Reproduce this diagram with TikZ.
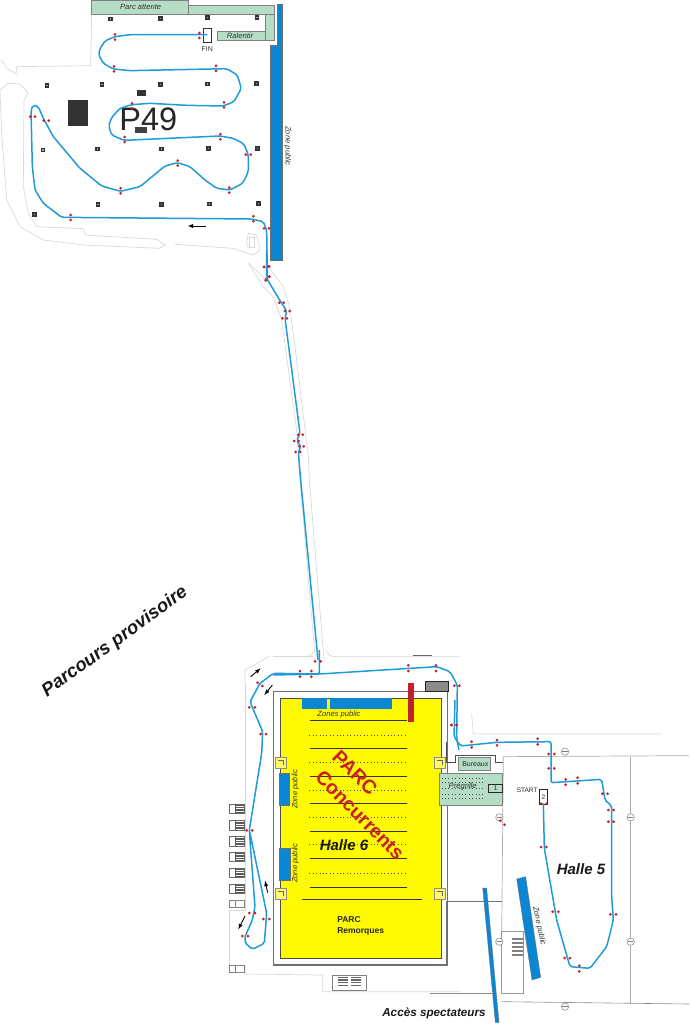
\documentclass[tikz,border=0pt]{standalone}
\usepackage{fontspec}
\setmainfont{Liberation Sans}
\definecolor{routeblue}{HTML}{1F9BD7}
\definecolor{zoneblue}{HTML}{0A86D2}
\definecolor{parcgreen}{HTML}{B5DDC6}
\definecolor{hallyellow}{HTML}{FFFA00}
\definecolor{conered}{HTML}{C8202A}
\definecolor{planline}{HTML}{D8D8D8}
\definecolor{wallgray}{HTML}{6E6E6E}
\tikzset{
  route/.style={routeblue,line width=1.5pt,rounded corners=2pt},
  planwall/.style={planline,line width=0.7pt},
  hallwall/.style={wallgray,line width=1.2pt},
  zonebox/.style={fill=zoneblue,draw=wallgray,line width=0.3pt},
  greenbox/.style={fill=parcgreen,draw=gray,line width=0.6pt},
  blackbox/.style={fill=black!80,draw=none},
  flow/.style={-latex,line width=0.9pt},
  rowline/.style={black!80,line width=1pt},
  rowdots/.style={black!70,line width=0.6pt,dash pattern=on 0.8pt off 2.6pt},
  smalltxt/.style={font=\fontsize{7.6}{8}\selectfont\itshape,text=black!80,inner sep=0pt},
  conedot/.style={fill=conered,draw=none},
}
\begin{document}
\begin{tikzpicture}[x=1pt,y=-1pt]
    \useasboundingbox (0,0) rectangle (689,1024);

    % P49 car park, coordinates read from the upper left part
    \begin{scope}[scale=1/3]
        % Outline of the ground
        \draw[planwall] (275,43) -- (272,197) -- (50,200) -- (48,222) -- (20,205) -- (5,180);
        \draw[planwall] (0,270) -- (25,250) -- (60,252) -- (85,280) -- (72,300) -- (70,560) -- (85,640) -- (110,680) -- (250,686) -- (255,705) -- (470,718) -- (495,735) -- (480,745) -- (250,735) -- (130,720) -- (60,680) -- (20,600) -- (5,400) -- (0,270);
        \draw[planwall] (525,733) -- (700,745) -- (760,765) -- (780,750) -- (770,705) -- (745,700) -- (740,725) -- (745,745);
        \draw[planwall] (747,712) rectangle (762,742);
        \draw[planwall] (745,790) -- (800,840);

        % Green areas
        \draw[greenbox] (565,17) rectangle (822,43);
        \draw[greenbox] (795,43) rectangle (822,120);
        \draw[greenbox] (652,94) rectangle (795,120);
        \draw[greenbox] (274,0) rectangle (565,43);
        \node[smalltxt] (attente) at (422,20) {Parc attente};
        \node[smalltxt] (ralentir) at (720,107) {Ralentir};

        % Public zone
        \draw[zonebox] (810,135) rectangle (845,780);
        \draw[zonebox] (832,12) rectangle (845,135);
        \node[smalltxt,rotate=-90] (zonetop) at (863,438) {Zone public};

        % Lamp posts and blocks
        \foreach \x/\y in {332/57,481/55,623/53,771/52,141/256,306/253,481/253,622/252,770/251,129/450,292/447,484/447,625/446,773/446,294/613,485/613,628/612,776/611,104/644} {
            \fill[blackbox] (\x-7,\y-7) rectangle (\x+7,\y+7);
            \fill[black!35] (\x-2,\y-2) rectangle (\x+2,\y+2);
        }
        \fill[blackbox] (205,300) rectangle (263,378);
        \fill[blackbox] (411,271) rectangle (438,287);
        \node[font=\fontsize{32.5}{34}\selectfont,text=black!85,inner sep=0pt] (pname) at (445,359) {P49};
        \fill[black!75] (405,380) rectangle (442,400);

        % Finish
        \draw[black!80,fill=white,line width=0.6pt] (610,84) rectangle (634,128);
        \node[font=\fontsize{7}{8}\selectfont,text=black!80,inner sep=0pt] (fin) at (622,146) {FIN};

        % Route
        \draw[route] (622,104) -- (390,104) -- (345,110) -- (316,122) -- (300,145) -- (296,165) -- (310,190) -- (340,207) -- (390,212) -- (680,206) -- (712,225) -- (724,265) -- (702,305) -- (670,318) -- (560,316) -- (450,310) -- (395,314) -- (360,325) -- (335,352) -- (326,378) -- (335,405) -- (372,421) -- (660,408) -- (700,415) -- (732,432) -- (745,465) -- (745,515) -- (728,550) -- (690,570) -- (650,565) -- (615,540) -- (570,500) -- (533,488) -- (495,498) -- (420,560) -- (362,574) -- (305,558) -- (240,505) -- (160,410) -- (130,355) -- (115,320) -- (100,315) -- (93,330) -- (97,500) -- (105,570) -- (130,610) -- (185,652) -- (755,657) -- (790,665) -- (800,690) -- (802,840);
        \coordinate (arrowA) at (617,678);
        \coordinate (arrowB) at (563,678);
        \draw[flow] (arrowA) -- (arrowB);

        % Gates
        \foreach \x/\y in {345/103,345/119,598/99,598/114,342/199,342/214,648/198,648/213,396/310,396/325,672/307,672/322,374/411,374/426,661/403,661/418,737/464,752/464,533/482,533/497,362/565,362/580,688/563,688/578,91/350,105/350,131/362,146/362,212/645,212/660,760/649,760/664,792/685,807/685,792/801,807/799,808/830,798/838}
            \fill[conedot] (\x,\y) circle (4.5);
    \end{scope}

    % Road between the car park and the halls
    \begin{scope}[shift={(240,250)},scale=1/3]
        \draw[planwall] (25,40) -- (70,110) -- (100,140) -- (125,210) -- (170,540) -- (180,690) -- (226,1230);
        \draw[planwall] (85,50) -- (130,110) -- (150,175) -- (165,290) -- (205,620) -- (208,690) -- (252,1230);
        \draw[route] (80,0) -- (80,85) -- (125,160) -- (140,183) -- (135,205) -- (180,550) -- (170,572) -- (183,590) -- (175,605) -- (182,690) -- (234,1230);
        \foreach \x/\y in {72/51,87/50,88/80,77/91,118/158,131/158,135/183,149/183,127/205,141/205,175/554,188/554,162/573,176/573,178/589,191/589,167/606,180/606}
            \fill[conedot] (\x,\y) circle (4.5);
    \end{scope}

    % Hall 6, coordinates read from the lower left part
    \begin{scope}[shift={(220,650)},scale=1/3]
        \draw[planwall] (160,18) -- (280,18);
        \draw[planwall] (280,0) to[out=-90,in=0] (265,18);
        \draw[planwall] (320,0) to[out=-90,in=180] (345,20) -- (720,20);
        \draw[black!60,line width=1pt] (580,15) -- (635,15);
        \draw[planwall] (75,105) -- (75,780) -- (27,780) -- (27,945);
        \draw[planwall] (75,105) -- (75,60) -- (150,18);
        \draw[planwall] (75,945) -- (75,972) -- (308,975) -- (308,1025) -- (720,1025);
        \foreach \y in {463,512,560,606,655,703} {
            \draw[black!60,fill=white,line width=0.6pt] (27,\y) rectangle (73,\y+28);
            \foreach \s in {3,8,13,18,23}
                \fill[black!65] (45,\y+\s) rectangle (73,\y+\s+2.5);
            \draw[black!65,line width=0.6pt] (45,\y) -- (45,\y+28);
        }
        \draw[planline!60!black,line width=0.5pt] (27,752) rectangle (73,772);
        \draw[planline!60!black,line width=0.5pt] (27,946) rectangle (73,968);
        \draw[planline!60!black,line width=0.5pt] (45,752) -- (45,772);
        \draw[planline!60!black,line width=0.5pt] (45,946) -- (45,968);
        \draw[black!50,line width=0.5pt] (338,975) rectangle (440,1020);
        \foreach \y in {980,988,996,1004} {
            \fill[black!60] (355,\y) rectangle (385,\y+4);
            \fill[black!60] (393,\y) rectangle (423,\y+4);
        }

        % Hall walls and floor
        \draw[hallwall] (160,125) rectangle (682,945);
        \fill[hallyellow] (180,145) rectangle (665,925);
        \draw[black!70,line width=0.8pt] (180,145) rectangle (665,925);
        \fill[zoneblue] (246,145) rectangle (320,176);
        \fill[zoneblue] (330,145) rectangle (515,176);
        \draw[zonebox] (176,368) rectangle (207,465);
        \draw[zonebox] (178,595) rectangle (210,690);
        \fill[conered] (563,100) rectangle (582,215);
        \node[rotate=90,font=\fontsize{3.5}{4}\selectfont,text=black!70,inner sep=0pt] (retour) at (572,158) {Retour Halle};
        \draw[black!85,fill=black!45,line width=0.8pt] (617,95) rectangle (685,123);

        % Rows of the park
        \foreach \y in {212,296,378,461,543,625,711}
            \draw[rowline] (270,\y) -- (562,\y);
        \foreach \y in {255,338,420,502,584,670}
            \draw[rowdots] (268,\y) -- (562,\y);
        \draw[rowline] (247,747) -- (606,747);

        % Stair blocks at the corners
        \foreach \x/\y in {183/338,660/338,183/731,660/731} {
            \draw[black!45,fill=hallyellow!60!white,line width=0.4pt] (\x-17,\y-17) rectangle (\x+17,\y+17);
            \draw[black!60,line width=0.5pt] (\x-8,\y-8) -- (\x+8,\y-8) -- (\x+8,\y+8);
        }

        % Texts of the hall
        \node[smalltxt] (zones) at (357,193) {Zones public};
        \node[smalltxt,rotate=90] (zonea) at (226,418) {Zone public};
        \node[smalltxt,rotate=90] (zoneb) at (226,640) {Zone public};
        \node[font=\fontsize{15}{16}\selectfont\bfseries\itshape,text=black!90,inner sep=0pt] (halle) at (372,585) {Halle 6};
        \node[font=\fontsize{19.5}{20}\selectfont\bfseries,text=conered,inner sep=0pt,rotate=-45] (parc) at (405,368) {PARC};
        \node[font=\fontsize{19.5}{20}\selectfont\bfseries,text=conered,inner sep=0pt,rotate=-45] (concurrents) at (420,495) {Concurrents};
        \node[font=\fontsize{8.5}{10.5}\selectfont\bfseries,text=black!85,inner sep=0pt,align=left] (remorques) at (422,827) {PARC\\Remorques};

        % Route
        \draw[route] (298,0) -- (298,72) -- (160,70) -- (120,100) -- (90,155) -- (128,245) -- (125,310) -- (88,540) -- (140,790) -- (133,880) -- (97,898) -- (75,878) -- (75,860) -- (97,810) -- (105,770) -- (92,600) -- (88,540);
        \draw[route] (160,75) -- (298,72) -- (650,50) -- (690,65) -- (712,105) -- (710,265) -- (717,300);
        \coordinate (arrowC) at (92,80);
        \coordinate (arrowD) at (122,55);
        \coordinate (arrowE) at (157,105);
        \coordinate (arrowF) at (133,135);
        \coordinate (arrowG) at (143,728);
        \coordinate (arrowH) at (135,692);
        \coordinate (arrowI) at (75,798);
        \coordinate (arrowJ) at (55,838);
        \draw[flow] (arrowC) -- (arrowD);
        \draw[flow] (arrowE) -- (arrowF);
        \draw[flow] (arrowG) -- (arrowH);
        \draw[flow] (arrowI) -- (arrowJ);
        \foreach \x/\y in {285/34,302/34,240/63,240/80,274/63,274/80,113/98,127/108,88/172,105/172,122/252,138/252,80/541,97/541,88/789,105/789,130/807,148/807,67/858,84/858,565/46,565/63,648/46,648/63,703/107,718/107,694/225,710/225}
            \fill[conedot] (\x,\y) circle (4.5);
    \end{scope}

    % Hall 5, coordinates read from the lower right part
    \begin{scope}[shift={(430,700)},scale=1/3]
        \draw[planwall] (125,40) -- (130,102) -- (695,102);
        \draw[planline!80!black,line width=0.7pt] (220,170) -- (777,167);
        \draw[planline!80!black,line width=0.9pt] (602,170) -- (602,912);
        \draw[black!45,line width=0.6pt] (215,905) -- (777,912);
        \draw[planline!80!black,line width=0.7pt] (220,170) -- (215,700);
        \draw[black!55,line width=0.6pt] (50,603) -- (215,603);
        \draw[black!55,line width=0.9pt] (50,603) -- (50,795) -- (0,795);
        \draw[black!45,line width=0.5pt] (0,880) -- (185,880);
        \draw[planline!70!black,line width=0.5pt] (215,695) rectangle (280,880);
        \foreach \y in {715,727,739,751,763}
            \fill[black!50] (245,\y) rectangle (280,\y+5);
        \draw[black!70,line width=0.6pt] (50,125) -- (50,187) -- (75,187) -- (75,165) -- (195,165) -- (195,187) -- (220,187);
        \foreach \x/\y in {602/352,602/725,208/352,208/725,405/155,405/920} {
            \draw[black!50,fill=white,line width=0.5pt] (\x,\y) circle (11);
            \draw[black!50,line width=0.8pt] (\x-8,\y) -- (\x+8,\y);
        }

        % Pre-grid and offices
        \draw[greenbox] (28,220) rectangle (218,317);
        \foreach \y in {234,248,265,282,296}
            \draw[black!70,line width=0.6pt,dash pattern=on 0.8pt off 2.6pt] (35,\y) -- (165,\y);
        \node[smalltxt] (pregrille) at (98,260) {Prégrille};
        \draw[black!85,fill=parcgreen,line width=0.7pt] (175,253) rectangle (218,278);
        \node[font=\fontsize{6.5}{7}\selectfont,text=black!85,inner sep=0pt] (boxone) at (197,266) {1};
        \draw[greenbox] (85,172) rectangle (180,210);
        \node[font=\fontsize{7}{8}\selectfont,text=black!85,inner sep=0pt] (bureaux) at (136,191) {Bureaux};

        % Start
        \draw[black!85,fill=white,line width=0.7pt] (327,268) rectangle (352,312);
        \node[font=\fontsize{6.5}{7}\selectfont,text=black!85,inner sep=0pt] (boxtwo) at (340,291) {2};
        \node[font=\fontsize{6.5}{7}\selectfont,text=black!85,inner sep=0pt,anchor=east] (start) at (323,272) {START};
        \node[font=\fontsize{15}{16}\selectfont\bfseries\itshape,text=black!90,inner sep=0pt] (hallefive) at (453,507) {Halle 5};

        % Public zones
        \draw[zonebox] (260,537) -- (287,530) -- (332,832) -- (306,840) -- cycle;
        \draw[zonebox] (158,564) -- (170,564) -- (207,968) -- (196,968) -- cycle;
        \node[smalltxt,rotate=-78] (zonehalle) at (327,678) {Zone public};

        % Route
        \draw[route] (75,0) -- (72,110) -- (92,138) -- (200,127) -- (363,125) -- (363,248) -- (515,238) -- (525,300) -- (545,318) -- (545,590) -- (550,660) -- (530,740) -- (480,805) -- (420,800) -- (380,660) -- (343,445) -- (340,310);
        \foreach \x/\y in {64/75,80/75,125/125,125/142,201/120,201/136,323/116,323/133,356/162,373/162,356/205,373/205,407/238,407/254,443/233,443/250,517/281,533/281,535/330,551/330,535/365,551/365,333/311,350/311,333/441,349/441,368/635,385/635,541/643,558/643,404/774,420/774,448/797,448/814,211/362,224/374}
            \fill[conedot] (\x,\y) circle (4.5);
    \end{scope}

    % Big titles
    \node[font=\fontsize{18.5}{19}\selectfont\bfseries\itshape,text=black!90,inner sep=0pt,rotate=36] (provisoire) at (115,642) {Parcours provisoire};
    \node[font=\fontsize{11.7}{12}\selectfont\bfseries\itshape,text=black!90,inner sep=0pt] (acces) at (434,1013) {Accès spectateurs};
\end{tikzpicture}
\end{document}
